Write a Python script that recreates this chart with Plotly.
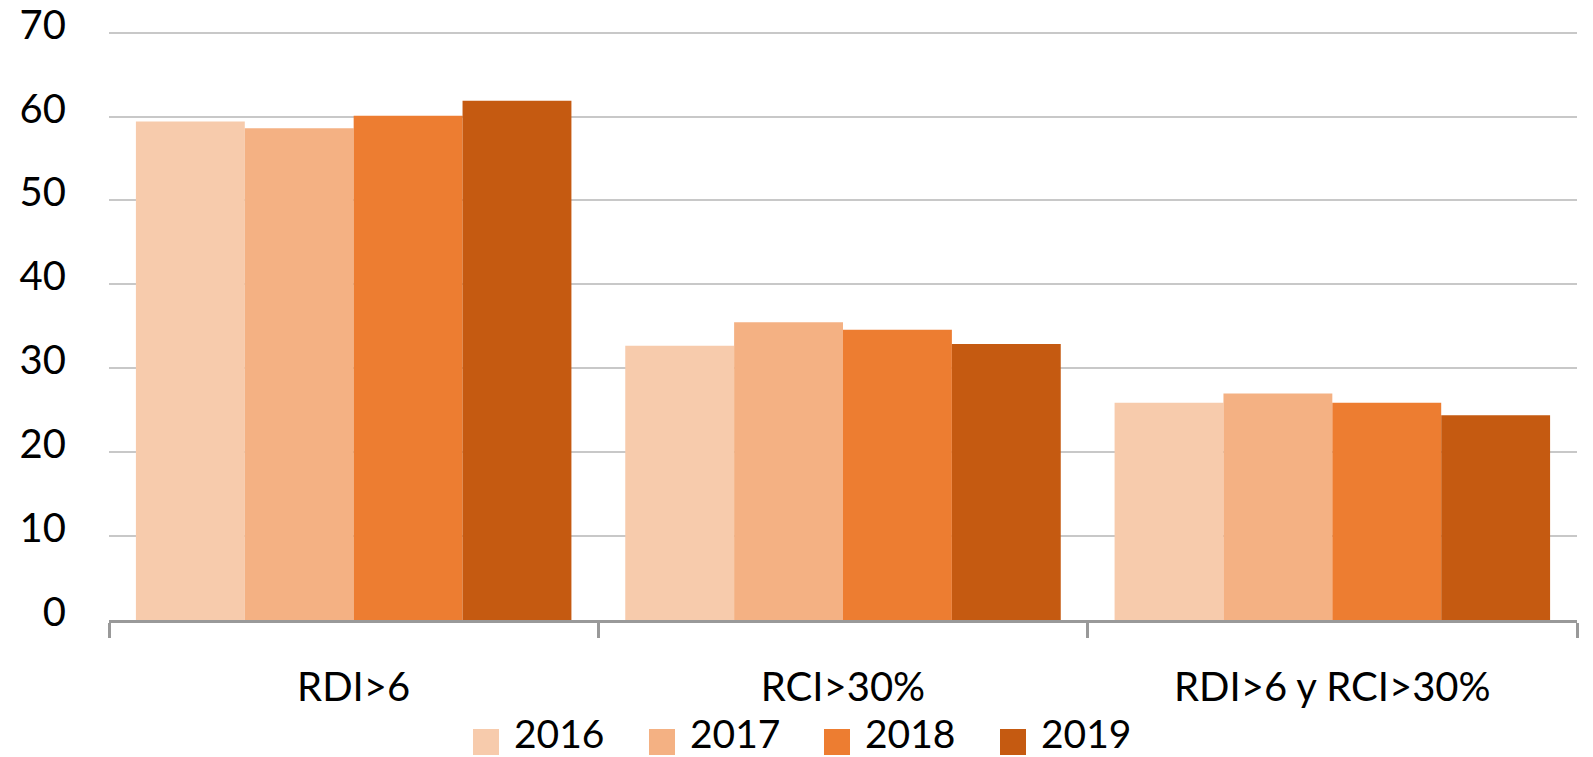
import plotly.graph_objects as go

# Data
categories = ["RDI>6", "RCI>30%", "RDI>6 y RCI>30%"]
years = ["2016", "2017", "2018", "2019"]
values_2016 = [59.4, 32.7, 25.9]
values_2017 = [58.6, 35.5, 27.0]
values_2018 = [60.1, 34.6, 25.9]
values_2019 = [61.9, 32.9, 24.4]
y_ticks = [0, 10, 20, 30, 40, 50, 60, 70]

series = [values_2016, values_2017, values_2018, values_2019]
colors = ["#F7CBAC", "#F4B183", "#ED7D31", "#C55A11"]

FONT = "Lato"
W, H = 1593, 757
M_L, M_R, M_T, M_B = 109, 16, 31, 137
plot_w = W - M_L - M_R
plot_h = H - M_T - M_B

fig = go.Figure()
for name, vals, col in zip(years, series, colors):
    fig.add_trace(go.Bar(
        x=categories, y=vals, name=name,
        marker=dict(color=col, line=dict(width=0)),
        showlegend=False,
    ))

# Legend built from boxes and labels below the axis
legend_px_x = [473, 649, 824, 1000]
box_center_y = 742
text_center_y = 733
box = 26


def px_to_paper_y(py):
    return (M_T + plot_h - py) / plot_h


for i, (name, col) in enumerate(zip(years, colors)):
    x0 = (legend_px_x[i] - M_L) / plot_w
    x1 = (legend_px_x[i] + box - M_L) / plot_w
    fig.add_shape(type="rect", xref="paper", yref="paper",
                  x0=x0, x1=x1,
                  y0=px_to_paper_y(box_center_y + box / 2),
                  y1=px_to_paper_y(box_center_y - box / 2),
                  fillcolor=col, line=dict(width=0))
    fig.add_annotation(xref="paper", yref="paper",
                       x=(legend_px_x[i] + box + 13 - M_L) / plot_w,
                       y=px_to_paper_y(text_center_y),
                       text=name, showarrow=False,
                       xanchor="left", yanchor="middle",
                       font=dict(family=FONT, size=39, color="#000"))

fig.update_layout(
    width=W, height=H,
    margin=dict(l=M_L, r=M_R, t=M_T, b=M_B, autoexpand=False),
    paper_bgcolor="white", plot_bgcolor="white",
    barmode="group", bargap=0.11, bargroupgap=0,
    font=dict(family=FONT, color="#000"),
    showlegend=False,
)
fig.update_xaxes(
    type="category", automargin=False,
    showline=True, linecolor="#999999", linewidth=3,
    ticks="outside", tickson="boundaries", ticklen=15, tickwidth=3,
    tickcolor="#999999",
    tickfont=dict(family=FONT, size=40, color="#000"),
    ticklabelstandoff=30,
    showgrid=False,
)
fig.update_yaxes(
    range=[0, 70.2], tickvals=y_ticks, automargin=False,
    showgrid=True, gridcolor="#C8C8C8", gridwidth=1.5,
    zeroline=False, showline=False,
    tickfont=dict(family=FONT, size=40, color="#000"),
    ticklabelstandoff=42, ticklabelshift=-8,
    ticklabeloverflow="allow",
)

fig.write_html("out.html")
